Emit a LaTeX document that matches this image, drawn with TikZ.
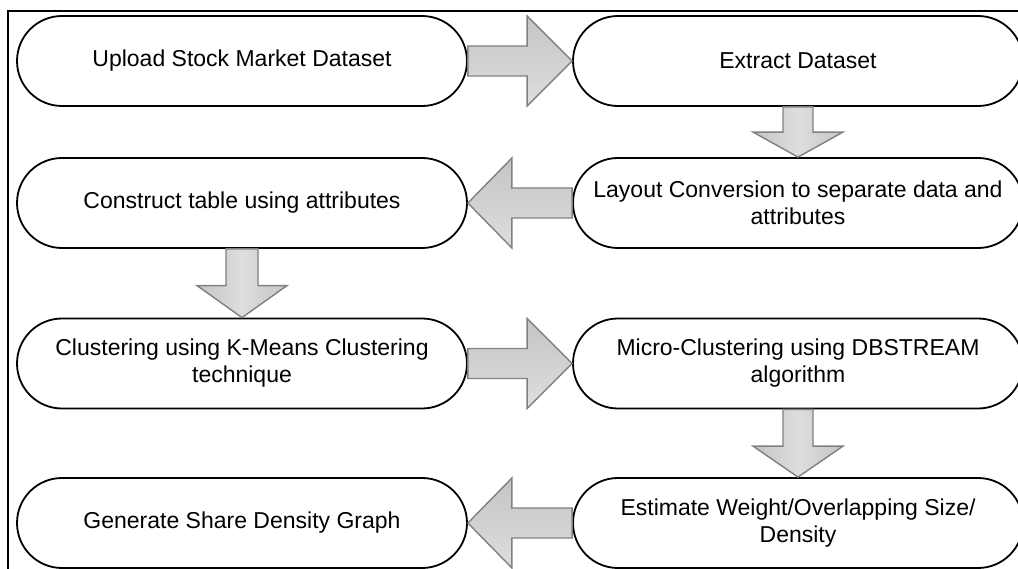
\documentclass[tikz,border=0pt]{standalone}
\usepackage{fontspec}
\setmainfont{Liberation Sans}
\usetikzlibrary{shapes.misc,calc}
\definecolor{arrline}{RGB}{128,128,128}
\definecolor{arrlight}{RGB}{222,222,222}
\definecolor{arrdark}{RGB}{196,196,196}
\tikzset{
  stage/.style={rounded rectangle, draw=black, line width=1.8pt, minimum width=450pt,
    minimum height=90pt, inner sep=0pt, align=center, fill=white,
    font=\fontsize{23}{27}\selectfont},
  fatH/.style={draw=arrline, line width=1.4pt, line join=miter, top color=arrdark, bottom color=arrlight},
  fatV/.style={draw=arrline, line width=1.4pt, line join=miter, left color=arrdark, right color=arrdark, middle color=arrlight},
  frameline/.style={draw=black, line width=2.6pt}
}
\newcommand\fatarrow[5]{%
  \path (#2) coordinate (fa-S) (#3) coordinate (fa-T);
  \path ($(fa-T)!#4!(fa-S)$) coordinate (fa-H);
  \draw[#1] ($(fa-S)!#5!90:(fa-T)$) -- ($(fa-H)!#5!90:(fa-T)$) -- ($(fa-H)!45pt!90:(fa-T)$)
    -- (fa-T) -- ($(fa-H)!45pt!-90:(fa-T)$) -- ($(fa-H)!#5!-90:(fa-T)$)
    -- ($(fa-S)!#5!-90:(fa-T)$) -- cycle;}
\begin{document}
\begin{tikzpicture}[x=1pt,y=-1pt]
\useasboundingbox (0,0) rectangle (1018,569);
\clip (0,0) rectangle (1018,569);
\fill[white] (0,0) rectangle (1018,569);
\draw[frameline] (8,11) rectangle (1060,620);

\node[stage] (upload) at (242,61) {Upload Stock Market Dataset};
\node[stage] (extract) at (798,61) {Extract Dataset};
\node[stage] (construct) at (242,203) {Construct table using attributes};
\node[stage] (layout) at (798,203) {Layout Conversion to separate data and\\attributes};
\node[stage] (kmeans) at (242,363.5) {Clustering using K-Means Clustering\\technique};
\node[stage] (micro) at (798,363.5) {Micro-Clustering using DBSTREAM\\algorithm};
\node[stage] (generate) at (242,523) {Generate Share Density Graph};
\node[stage] (estimate) at (798,523) {Estimate Weight/Overlapping Size/\\Density};

\fatarrow{fatH}{upload.east}{extract.west}{45pt}{15pt}
\fatarrow{fatV}{extract.south}{layout.north}{25pt}{15pt}
\fatarrow{fatH}{layout.west}{construct.east}{44pt}{15pt}
\fatarrow{fatV}{construct.south}{kmeans.north}{32pt}{16pt}
\fatarrow{fatH}{kmeans.east}{micro.west}{45pt}{15pt}
\fatarrow{fatV}{micro.south}{estimate.north}{31pt}{15pt}
\fatarrow{fatH}{estimate.west}{generate.east}{44pt}{15pt}
\end{tikzpicture}
\end{document}
